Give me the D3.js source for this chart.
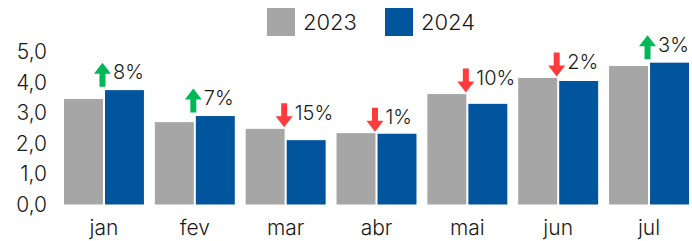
<!DOCTYPE html>
<html><head><meta charset="utf-8">
<script src="https://cdn.jsdelivr.net/npm/d3@7"></script>
<style>body{margin:0;background:#fff}svg{display:block}text{font-family:Inter,"Open Sans",sans-serif;fill:#1a1a1a;font-weight:300}</style>
</head><body>
<script>
const months = ["jan","fev","mar","abr","mai","jun","jul"];
const series = ["2023","2024"];
const values2023 = [3.46,2.70,2.48,2.34,3.62,4.15,4.54];
const values2024 = [3.75,2.90,2.11,2.32,3.30,4.05,4.65];
const changeLabels = ["8%","7%","15%","1%","10%","2%","3%"];
const changeUp = [true,true,false,false,false,false,true];
const yTicks = [0,1,2,3,4,5];
const colors = {"2023":"#A6A6A6","2024":"#01559C"};

const W=692,H=241;
const svg=d3.select("body").append("svg").attr("width",W).attr("height",H);
const x0=d3.scaleBand().domain(months).range([64,689]).paddingInner(0.12).paddingOuter(0);
const x1=d3.scaleBand().domain(series).range([0,x0.bandwidth()]).paddingInner(0.05);
const y=d3.scaleLinear().domain([0,5]).range([204.5,52]);

// y axis
const yAxis=svg.append("g").attr("transform","translate(47,0)")
  .call(d3.axisLeft(y).tickValues(yTicks).tickSize(0).tickPadding(0).tickFormat(d=>d3.format(".1f")(d).replace(".",",")));
yAxis.select(".domain").remove();
yAxis.selectAll("text").attr("font-size",21).style("font-family","Inter,sans-serif").style("font-weight",300).attr("fill","#1a1a1a").attr("dy","0.33em");

// x axis
const xAxis=svg.append("g").attr("transform","translate(0,204)")
  .call(d3.axisBottom(x0).tickSize(0).tickPadding(16));
xAxis.select(".domain").remove();
xAxis.selectAll("text").attr("font-size",21).style("font-family","Inter,sans-serif").style("font-weight",300).attr("fill","#1a1a1a");

const data=months.map((m,i)=>({m,v:{"2023":values2023[i],"2024":values2024[i]},lab:changeLabels[i],up:changeUp[i]}));
const g=svg.append("g").selectAll("g").data(data).join("g").attr("transform",d=>`translate(${x0(d.m)},0)`);
g.selectAll("rect").data(d=>series.map(s=>({s,v:d.v[s]}))).join("rect")
  .attr("x",d=>x1(d.s)).attr("width",x1.bandwidth())
  .attr("y",d=>y(d.v)).attr("height",d=>y(0)-y(d.v)).attr("fill",d=>colors[d.s]);

// arrows + labels
const aw=17,ah=24,hh=11,sw=6;
g.each(function(d){
  const gg=d3.select(this);
  const cx=x0.bandwidth()/2-1.5;
  const top=Math.min(y(d.v["2023"]),y(d.v["2024"]));
  const bottom=top-(d.up?3.5:1.5);
  const t=bottom-ah;
  let p;
  if(d.up){
    p=`M${cx},${t} L${cx+aw/2},${t+hh} L${cx+sw/2},${t+hh} L${cx+sw/2},${bottom} L${cx-sw/2},${bottom} L${cx-sw/2},${t+hh} L${cx-aw/2},${t+hh} Z`;
  } else {
    p=`M${cx},${bottom} L${cx+aw/2},${bottom-hh} L${cx+sw/2},${bottom-hh} L${cx+sw/2},${t} L${cx-sw/2},${t} L${cx-sw/2},${bottom-hh} L${cx-aw/2},${bottom-hh} Z`;
  }
  gg.append("path").attr("d",p).attr("fill",d.up?"#00B75A":"#FF3B3B");
  gg.append("text").attr("x",cx+aw/2+2).attr("y",t+16.5).attr("font-size",20).text(d.lab);
});

// legend
const leg=svg.append("g");
const legX={"2023":267,"2024":385};
series.forEach(s=>{
  leg.append("rect").attr("x",legX[s]).attr("y",8).attr("width",28).attr("height",28).attr("fill",colors[s]);
  leg.append("text").attr("x",legX[s]+36).attr("y",30).attr("font-size",22).text(s);
});
</script>
</body></html>
